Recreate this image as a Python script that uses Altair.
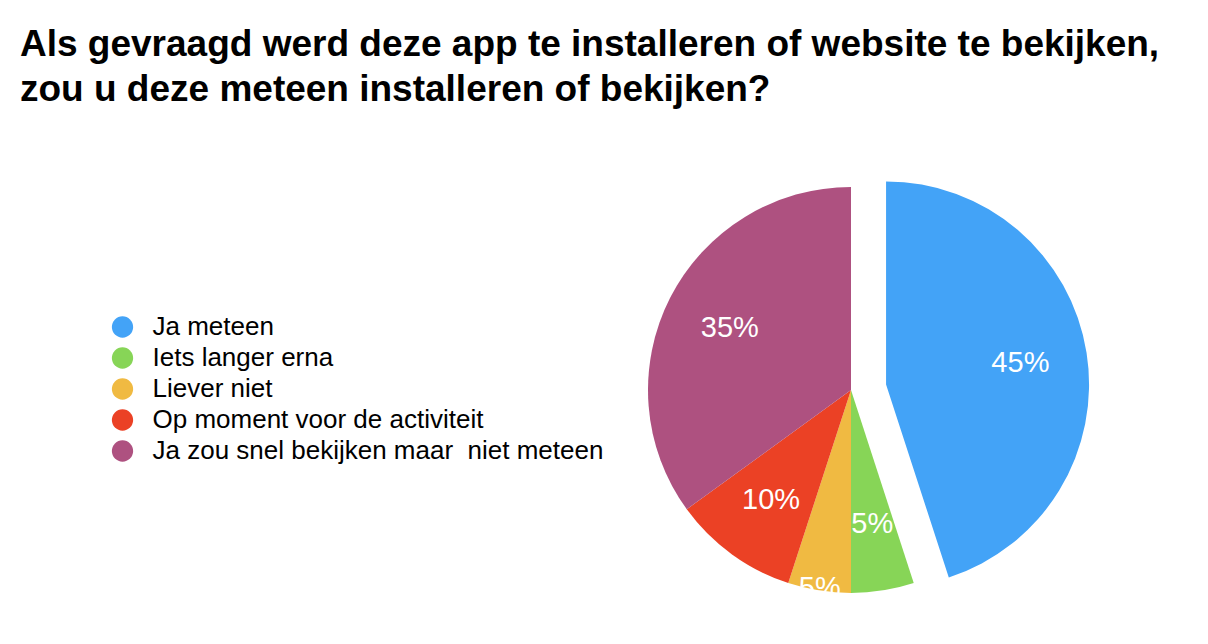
import math
import altair as alt
import pandas as pd

categories = ["Ja meteen", "Iets langer erna", "Liever niet",
              "Op moment voor de activiteit", "Ja zou snel bekijken maar\u00a0 niet meteen"]
values = [45, 5, 5, 10, 35]
labels = ["45%", "5%", "5%", "10%", "35%"]
colors = ["#43A3F7", "#87D557", "#F0BA42", "#EB4125", "#AE5180"]
title_lines = ["Als gevraagd werd deze app te installeren of website te bekijken,",
               "zou u deze meteen installeren of bekijken?"]

df = pd.DataFrame({"category": categories, "value": values, "label": labels,
                   "order": list(range(len(categories)))})

W, H = 1208, 644
TOP = 120
cx, cy = 851, 390 - TOP
R = 203
explode = 35.5
blue_mid = values[0] / sum(values) / 2 * 2 * math.pi
bx = cx + explode * math.sin(blue_mid)
by = cy - explode * math.cos(blue_mid)

theta_scale = alt.Scale(domain=[0, 100], range=[0, 2 * math.pi])
color_scale = alt.Scale(domain=categories, range=colors)
FONT = "Liberation Sans"

base = alt.Chart(df).transform_window(
    cum="sum(value)", sort=[alt.SortField("order")]
).transform_calculate(
    start="datum.cum - datum.value",
    end="datum.cum",
    mid="datum.cum - datum.value / 2",
)

legend = alt.Legend(
    title=None, orient="none", legendX=109.5, legendY=327 - 13 - TOP,
    symbolType="circle", symbolSize=452, symbolStrokeWidth=0, symbolOpacity=1,
    labelFontSize=26, labelFont=FONT, labelColor="black", labelLimit=0,
    rowPadding=5, labelOffset=17,
)

rest = base.transform_filter(alt.datum.order > 0).mark_arc(radius=R).encode(
    theta=alt.Theta("start:Q", scale=theta_scale, stack=False),
    theta2="end:Q",
    color=alt.Color("category:N", scale=color_scale, legend=legend),
    x=alt.value(cx), y=alt.value(cy),
)

blue = base.transform_filter(alt.datum.order == 0).mark_arc(radius=R).encode(
    theta=alt.Theta("start:Q", scale=theta_scale, stack=False),
    theta2="end:Q",
    color=alt.Color("category:N", scale=color_scale, legend=legend),
    x=alt.value(bx), y=alt.value(by),
)

text_props = dict(font=FONT, fontSize=29, color="white")

rest_text = base.transform_filter(
    (alt.datum.order > 0) & (alt.datum.order != 2)
).mark_text(radius=136, **text_props).encode(
    theta=alt.Theta("mid:Q", scale=theta_scale, stack=False),
    text="label:N",
    x=alt.value(cx), y=alt.value(cy),
)

small_text = base.transform_filter(alt.datum.order == 2).mark_text(
    radius=200, **text_props
).encode(
    theta=alt.Theta("mid:Q", scale=theta_scale, stack=False),
    text="label:N",
    x=alt.value(cx), y=alt.value(cy),
)

blue_text = base.transform_filter(alt.datum.order == 0).mark_text(
    radius=136, **text_props
).encode(
    theta=alt.Theta("mid:Q", scale=theta_scale, stack=False),
    text="label:N",
    x=alt.value(bx), y=alt.value(by),
)

chart = alt.layer(rest, blue, rest_text, small_text, blue_text).properties(
    width=W, height=H - TOP,
    padding={"left": 0, "right": 0, "top": TOP, "bottom": 0},
    autosize="none",
    title=alt.TitleParams(
        text=title_lines, anchor="start", frame="group", dx=20,
        fontSize=37, font=FONT, fontWeight="bold", color="black",
        lineHeight=45, offset=11,
    ),
).configure_view(stroke=None)

chart.save("out.html", embed_options={"renderer": "svg", "actions": False})
